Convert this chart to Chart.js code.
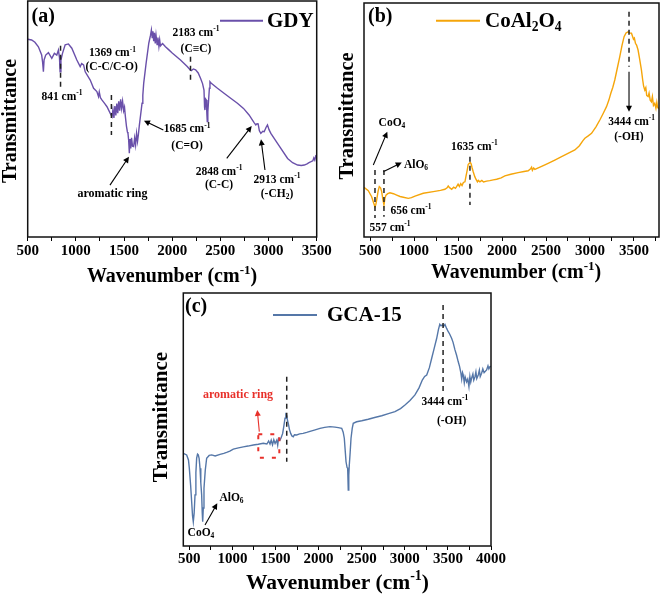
<!DOCTYPE html>
<html>
<head>
<meta charset="utf-8">
<script src="https://cdn.jsdelivr.net/npm/chart.js@4.4.1/dist/chart.umd.min.js"></script>
<style>
html, body { margin: 0; padding: 0; background: #fff; }
body { width: 661px; height: 601px; position: relative; overflow: hidden; }
canvas { position: absolute; }
</style>
</head>
<body>
<canvas id="pa" width="345" height="300" style="left:0;top:0"></canvas>
<canvas id="pb" width="331" height="300" style="left:330px;top:0"></canvas>
<canvas id="pc" width="370" height="313" style="left:140px;top:288px"></canvas>
<script>
// FTIR spectra, [wavenumber cm-1, transmittance (a.u.)]
const gdy = [
  [500,83.8],[541,83.5],[575,82.5],[611,80.6],[645,77.1],[655,74],[663,70.0],[670,75],[687,77.1],[715,78.1],
  [750,75.7],[777,77.8],[802,77.1],[819,79.2],[830,76],[836,70.0],[845,75],[861,77.8],[889,81.4],[923,81.8],
  [958,80.0],[1010,75.0],[1045,72.2],[1060,73.5],[1080,72.9],[1097,70.0],[1149,66.5],[1184,63.0],[1218,61.6],[1235,59.5],
  [1243,61.5],[1255,59.0],[1270,58.1],[1300,56.5],[1323,55.2],[1357,52.4],[1375,51.0],[1385,54],[1395,50.5],[1405,55.5],
  [1415,51.5],[1425,56.5],[1435,52.5],[1445,57.5],[1455,53.5],[1465,58.3],[1475,54.5],[1485,57.5],[1496,53.5],[1505,55],
  [1514,51.0],[1525,47],[1535,44.5],[1541,43.9],[1548,41],[1555,35.5],[1562,41.5],[1570,37.5],[1578,42],[1588,38.5],
  [1600,38.3],[1610,42],[1620,39],[1630,43.9],[1640,40.5],[1648,43],[1658,47],[1670,51.0],[1687,56.7],[1695,60],
  [1704,65.1],[1729,73.6],[1757,82.1],[1775,85.5],[1784,87.7],[1792,84.5],[1800,87.2],[1808,83],[1816,86.5],[1824,82],
  [1832,85.5],[1843,81.5],[1852,84.5],[1862,80.8],[1870,83.5],[1878,81],[1900,82],[1930,80.6],[1960,79.5],[2000,78.0],
  [2086,75.0],[2156,72.2],[2183,71.0],[2198,70.5],[2220,71.2],[2243,70.8],[2270,69.5],[2295,67.2],[2315,65],[2330,62.3],
  [2336,55],[2340,53.8],[2347,58.5],[2354,58.1],[2360,52],[2364,48.9],[2370,53],[2378,58.1],[2386,63],[2392,65.8],
  [2406,65.1],[2470,63.0],[2538,60.9],[2600,59.0],[2677,56.7],[2740,54.5],[2798,51.7],[2850,48.5],[2868,47.5],[2880,48.0],
  [2892,47.9],[2905,45.0],[2920,43.9],[2940,44.8],[2955,44.6],[2975,46.5],[2989,47.5],[3005,45.5],[3024,43.9],[3093,39.7],
  [3198,33.3],[3250,31.5],[3302,30.5],[3340,30.3],[3371,30.5],[3400,31.0],[3420,31.5],[3441,31.9],[3460,32.3],[3470,33.5],
  [3480,32.6],[3490,34.3],[3500,34.0]
];

const coal = [
  [430,21.2],[479,19.8],[517,17.2],[540,14.5],[555,12.9],[565,14],[574,15.8],[590,19.5],[604,21.5],[618,21],
  [631,19.4],[645,16],[657,13.7],[668,16.5],[680,17.9],[700,18.5],[725,18.9],[765,18.5],[802,17.9],[840,17.3],
  [877,17.0],[934,16.5],[970,16.8],[1010,17.5],[1104,18.7],[1218,19.4],[1300,19.9],[1350,20.4],[1375,21],[1388,21.8],
  [1400,21.2],[1427,20.4],[1450,21.3],[1470,20.8],[1483,21.5],[1500,22.6],[1515,21.6],[1530,22.8],[1545,22.0],[1560,23.3],
  [1578,23.6],[1590,26],[1604,28.6],[1615,31],[1627,31.5],[1640,31.8],[1649,31.2],[1660,29.5],[1672,27.9],[1690,25.8],
  [1703,24.7],[1720,23.6],[1730,24.2],[1748,23.6],[1770,24.2],[1790,23.5],[1824,23.9],[1860,24.1],[1900,24.4],[1938,24.7],
  [1990,25.3],[2032,26.1],[2100,26.8],[2183,27.5],[2250,28.0],[2297,28.3],[2325,29.2],[2336,29.8],[2345,28.5],[2360,29.5],
  [2373,28.9],[2450,30.2],[2524,31.5],[2600,32.9],[2677,34.3],[2750,35.7],[2828,37.2],[2880,39.0],[2920,41.2],[2942,42.2],
  [2980,43.2],[3018,44.3],[3070,47.2],[3112,50.0],[3150,52.8],[3188,55.7],[3215,58.5],[3237,61.4],[3260,64],[3282,67.1],
  [3310,72],[3339,77.1],[3365,82],[3388,85.6],[3410,87.2],[3433,87.7],[3450,87.2],[3472,87.1],[3495,84.5],[3505,85.0],
  [3517,82.8],[3530,82.0],[3547,79.9],[3565,76],[3585,71.4],[3600,67],[3610,64.5],[3623,62.8],[3635,63.8],[3645,60.5],
  [3661,60.0],[3672,61.5],[3685,58.5],[3699,57.8],[3710,60],[3722,56.2],[3737,57.1],[3750,55],[3760,57.5],[3767,55.7],
  [3780,54.8]
];

const gca = [
  [430,36.6],[469,36.0],[490,34],[500,30.7],[515,24],[527,17.5],[537,12],[546,9.6],[556,13],[566,20.2],
  [576,29],[585,34.7],[595,36.3],[604,36.0],[614,34.5],[624,30.7],[633,25],[643,20.2],[650,13],[655,9.6],
  [662,15],[670,22.8],[685,30],[701,34.7],[730,35.8],[759,36.0],[800,35.6],[856,36.2],[900,36.6],[933,37.0],
  [970,37.5],[1010,38.3],[1070,38.8],[1126,39.2],[1180,39.5],[1242,39.9],[1300,40.2],[1358,40.6],[1400,40.3],[1420,41.5],
  [1436,40.3],[1450,41.8],[1465,40.0],[1480,42.0],[1495,40.5],[1514,41.8],[1525,39.8],[1535,42.5],[1552,41.9],[1565,42.8],
  [1583,44.5],[1597,47.5],[1610,50.5],[1620,52],[1630,51.5],[1640,49.5],[1648,48.5],[1662,46],[1676,44.5],[1690,43.5],
  [1706,43.2],[1720,44],[1745,43.9],[1780,44.3],[1820,44.5],[1862,44.9],[1900,45.3],[1950,45.8],[2016,46.5],[2070,46.9],
  [2132,47.2],[2190,47.0],[2228,46.8],[2268,46.5],[2285,45],[2298,42.6],[2310,37],[2318,33.3],[2330,31],[2337,30.7],
  [2344,22.1],[2350,28],[2356,32.0],[2366,37],[2376,42.6],[2390,46.5],[2402,48.5],[2441,49.1],[2500,49.5],[2576,50.1],
  [2650,50.8],[2732,51.5],[2810,52.3],[2886,53.1],[2950,54.3],[3002,55.7],[3060,57.5],[3118,59.7],[3165,62.5],[3203,65.6],
  [3230,67],[3254,67.6],[3285,70.5],[3312,74.2],[3340,78],[3370,82.1],[3390,85.5],[3406,87.6],[3420,87],[3435,87.4],
  [3450,86.8],[3466,87.6],[3485,86],[3504,84.7],[3520,83.8],[3543,82.1],[3560,80.5],[3582,77.5],[3600,75.5],[3620,72.8],
  [3635,71],[3651,68.3],[3660,66],[3670,68.5],[3678,67.6],[3690,64.5],[3700,66.8],[3717,64.9],[3730,66],[3744,63.0],
  [3755,67],[3765,64.8],[3775,66.3],[3790,68.0],[3800,65.6],[3814,66.9],[3825,68.8],[3835,66.2],[3852,67.6],[3865,69.5],
  [3875,67],[3891,68.3],[3905,70],[3920,68.5],[3949,69.6],[3965,71.2],[3975,70.0],[3988,70.9],[4000,71.0]
];

const tickStep = 250;
const labelStep = 500;
const FONT = "'Liberation Serif', 'Times New Roman', serif";

// peak annotations, in data coordinates
const notesA = [
  { t: 'text', x: 856, y: 59.4, s: '841 cm^{-1}' },
  { t: 'dash', x: 841, y1: 81, y2: 63.5 },
  { t: 'text', x: 1380, y: 77.8, s: '1369 cm^{-1}' },
  { t: 'text', x: 1372, y: 71.9, s: '(C-C/C-O)' },
  { t: 'dash', x: 1369, y1: 60.2, y2: 43.2 },
  { t: 'text', x: 1380, y: 18.2, s: 'aromatic ring', size: 12 },
  { t: 'arrow', x1: 1354, y1: 22.0, x2: 1551, y2: 34.0 },
  { t: 'text', x: 2154, y: 45.6, s: '1685 cm^{-1}' },
  { t: 'text', x: 2154, y: 38.6, s: '(C=O)' },
  { t: 'arrow', x1: 1908, y1: 45.3, x2: 1707, y2: 49.3 },
  { t: 'text', x: 2247, y: 86.3, s: '2183 cm^{-1}' },
  { t: 'text', x: 2247, y: 79.5, s: '(C\u2261C)' },
  { t: 'dash', x: 2190, y1: 76.4, y2: 65.8 },
  { t: 'text', x: 2486, y: 27.7, s: '2848 cm^{-1}' },
  { t: 'text', x: 2486, y: 22.0, s: '(C-C)' },
  { t: 'arrow', x1: 2566, y1: 33.3, x2: 2825, y2: 47.0 },
  { t: 'text', x: 3088, y: 24.2, s: '2913 cm^{-1}' },
  { t: 'text', x: 3088, y: 18.2, s: '(-CH_{2})' },
  { t: 'arrow', x1: 2963, y1: 28.4, x2: 2922, y2: 41.4 }
];
const notesB = [
  { t: 'text', x: 748, y: 48.6, s: 'CoO_{4}' },
  { t: 'arrow', x1: 536, y1: 30.8, x2: 695, y2: 45.0 },
  { t: 'dash', x: 555, y1: 28.6, y2: 8.1 },
  { t: 'text', x: 726, y: 3.7, s: '557 cm^{-1}' },
  { t: 'text', x: 1021, y: 30.8, s: 'AlO_{6}' },
  { t: 'arrow', x1: 649, y1: 27.9, x2: 859, y2: 31.8 },
  { t: 'dash', x: 657, y1: 28.6, y2: 8.7 },
  { t: 'text', x: 964, y: 11.2, s: '656 cm^{-1}' },
  { t: 'text', x: 1686, y: 38.6, s: '1635 cm^{-1}' },
  { t: 'dash', x: 1635, y1: 34.3, y2: 13.7 },
  { t: 'dash', x: 3444, y1: 96.3, y2: 72.8 },
  { t: 'arrow', x1: 3444, y1: 70.6, x2: 3444, y2: 53.5 },
  { t: 'text', x: 3474, y: 49.3, s: '3444 cm^{-1}' },
  { t: 'text', x: 3443, y: 42.9, s: '(-OH)' }
];
const notesC = [
  { t: 'dash', x: 1630, y1: 66.9, y2: 33.3 },
  { t: 'dash', x: 3444, y1: 95.3, y2: 61.0 },
  { t: 'text', x: 3465, y: 56.8, s: '3444 cm^{-1}' },
  { t: 'text', x: 3543, y: 49.4, s: '(-OH)' },
  { t: 'text', x: 1065, y: 59.7, s: 'aromatic ring', color: '#e8302a', size: 12 },
  { t: 'arrow', x1: 1312, y1: 45.2, x2: 1288, y2: 53.8, color: '#e8302a' },
  { t: 'rect', x1: 1300, x2: 1544, y1: 44.2, y2: 34.9, color: '#e8302a' },
  { t: 'text', x: 989, y: 18.9, s: 'AlO_{6}' },
  { t: 'arrow', x1: 682, y1: 8.3, x2: 824, y2: 16.9 },
  { t: 'text', x: 635, y: 5.1, s: 'CoO_{4}' }
];

function parseRich(s) {
  const out = [];
  let buf = '', i = 0;
  while (i < s.length) {
    const c = s[i];
    if ((c === '^' || c === '_') && s[i + 1] === '{') {
      if (buf) { out.push({ t: buf, m: '' }); buf = ''; }
      const end = s.indexOf('}', i);
      out.push({ t: s.slice(i + 2, end), m: c });
      i = end + 1;
    } else {
      buf += c;
      i++;
    }
  }
  if (buf) out.push({ t: buf, m: '' });
  return out;
}

function drawRich(ctx, s, x, y, size, align, color) {
  const segs = parseRich(s);
  const small = size * 0.65;
  let w = 0;
  segs.forEach(g => {
    ctx.font = 'bold ' + (g.m ? small : size) + 'px ' + FONT;
    g.w = ctx.measureText(g.t).width;
    w += g.w;
  });
  let cx = align === 'left' ? x : x - w / 2;
  ctx.fillStyle = color || '#000';
  ctx.textAlign = 'left';
  ctx.textBaseline = 'middle';
  segs.forEach(g => {
    ctx.font = 'bold ' + (g.m ? small : size) + 'px ' + FONT;
    const dy = g.m === '^' ? -size * 0.33 : g.m === '_' ? size * 0.28 : 0;
    ctx.fillText(g.t, cx, y + dy);
    cx += g.w;
  });
}

function arrow(ctx, x1, y1, x2, y2, color) {
  const ang = Math.atan2(y2 - y1, x2 - x1);
  const hl = 6, hw = 3;
  ctx.strokeStyle = color; ctx.fillStyle = color; ctx.lineWidth = 1.1;
  ctx.setLineDash([]);
  ctx.beginPath();
  ctx.moveTo(x1, y1);
  ctx.lineTo(x2 - Math.cos(ang) * hl * 0.8, y2 - Math.sin(ang) * hl * 0.8);
  ctx.stroke();
  ctx.beginPath();
  ctx.moveTo(x2, y2);
  ctx.lineTo(x2 - Math.cos(ang) * hl + Math.sin(ang) * hw, y2 - Math.sin(ang) * hl - Math.cos(ang) * hw);
  ctx.lineTo(x2 - Math.cos(ang) * hl - Math.sin(ang) * hw, y2 - Math.sin(ang) * hl + Math.cos(ang) * hw);
  ctx.closePath();
  ctx.fill();
}

const decor = {};

const decorPlugin = {
  id: 'decor',
  afterDatasetsDraw(chart) {
    const o = decor[chart.canvas.id];
    const { ctx, chartArea: a } = chart;
    const sx = chart.scales.x, sy = chart.scales.y;
    ctx.save();
    o.notes.forEach(n => {
      const col = n.color || '#000';
      if (n.t === 'text') {
        drawRich(ctx, n.s, sx.getPixelForValue(n.x), sy.getPixelForValue(n.y), n.size || 11.5, 'center', col);
      } else if (n.t === 'dash') {
        const px = sx.getPixelForValue(n.x);
        ctx.strokeStyle = '#222'; ctx.lineWidth = 1.5; ctx.setLineDash([5, 4]);
        ctx.beginPath();
        ctx.moveTo(px, sy.getPixelForValue(n.y1));
        ctx.lineTo(px, sy.getPixelForValue(n.y2));
        ctx.stroke();
      } else if (n.t === 'arrow') {
        arrow(ctx, sx.getPixelForValue(n.x1), sy.getPixelForValue(n.y1),
              sx.getPixelForValue(n.x2), sy.getPixelForValue(n.y2), col);
      } else if (n.t === 'rect') {
        const l = sx.getPixelForValue(n.x1), r = sx.getPixelForValue(n.x2);
        const t = sy.getPixelForValue(n.y1), b = sy.getPixelForValue(n.y2);
        ctx.strokeStyle = col; ctx.lineWidth = 2; ctx.setLineDash([4, 8]);
        ctx.strokeRect(l, t, r - l, b - t);
      }
    });
    ctx.setLineDash([]);

    // frame
    ctx.strokeStyle = '#111';
    ctx.lineWidth = 1.5;
    ctx.strokeRect(a.left, a.top, a.right - a.left, a.bottom - a.top);

    // legend
    const lg = o.legend;
    ctx.strokeStyle = o.color; ctx.lineWidth = 2;
    ctx.beginPath(); ctx.moveTo(lg.x1, lg.y); ctx.lineTo(lg.x2, lg.y); ctx.stroke();
    drawRich(ctx, lg.s, lg.tx, lg.y + 1, 21, 'left', '#000');

    // panel label
    drawRich(ctx, o.label[0], o.label[1], o.label[2], 20, 'left', '#000');

    // axis titles
    drawRich(ctx, 'Wavenumber (cm^{-1})', o.xTitle[0], o.xTitle[1], o.xTitle[2], 'center', '#000');
    ctx.translate(o.yTitle[0], o.yTitle[1]);
    ctx.rotate(-Math.PI / 2);
    drawRich(ctx, 'Transmittance', 0, 0, o.yTitle[2], 'center', '#000');
    ctx.restore();
  }
};

function makePanel(id, series, color, o) {
  o.color = color;
  decor[id] = o;
  return new Chart(document.getElementById(id), {
    type: 'line',
    data: {
      datasets: [{
        data: series.map(p => ({ x: p[0], y: p[1] })),
        borderColor: color,
        borderWidth: 1.4,
        pointRadius: 0,
        tension: 0,
        fill: false
      }]
    },
    options: {
      responsive: false,
      animation: false,
      events: [],
      layout: { padding: o.pad },
      plugins: { legend: { display: false }, tooltip: { enabled: false } },
      scales: {
        x: {
          type: 'linear',
          min: o.xMin,
          max: o.xMax,
          grid: { display: true, drawOnChartArea: false, drawTicks: true, tickLength: 4, color: '#000', lineWidth: 1 },
          border: { display: false },
          ticks: {
            stepSize: tickStep,
            autoSkip: false,
            includeBounds: false,
            maxRotation: 0,
            padding: o.tickPad,
            color: '#000',
            font: { family: FONT, size: 15, weight: 'bold' },
            callback: v => (v % labelStep === 0 ? String(v) : '')
          },
          afterFit: s => { s.height = o.xH; s.paddingLeft = 0; s.paddingRight = 0; }
        },
        y: {
          min: 0,
          max: 100,
          grid: { display: false },
          border: { display: false },
          ticks: { display: false },
          afterFit: s => { s.width = o.yW; s.paddingTop = 0; s.paddingBottom = 0; }
        }
      }
    },
    plugins: [decorPlugin]
  });
}

makePanel('pa', gdy, '#6a50aa', {
  xMin: 500, xMax: 3500, yW: 27.7, xH: 50, tickPad: 1,
  pad: { left: 0, top: 1, right: 28.3, bottom: 13 },
  xTitle: [172, 277, 20], yTitle: [10.5, 121, 20],
  label: ['(a)', 31.5, 17],
  legend: { x1: 220, x2: 263, y: 20.7, tx: 267, s: 'GDY' },
  notes: notesA
});

makePanel('pb', coal, '#f5a50a', {
  xMin: 430, xMax: 3785, yW: 34, xH: 50, tickPad: 1,
  pad: { left: 0, top: 3, right: 2, bottom: 13 },
  xTitle: [186, 273, 20], yTitle: [17.5, 116, 20.5],
  label: ['(b)', 38, 17],
  legend: { x1: 106, x2: 150, y: 20.7, tx: 155, s: 'CoAl_{2}O_{4}' },
  notes: notesB
});

makePanel('pc', gca, '#5577a8', {
  xMin: 430, xMax: 4000, yW: 43.3, xH: 45, tickPad: 0,
  pad: { left: 0, top: 5, right: 19, bottom: 10 },
  xTitle: [197.5, 295, 21.5], yTitle: [21.7, 129, 21],
  label: ['(c)', 45, 19],
  legend: { x1: 133, x2: 177, y: 27, tx: 187, s: 'GCA-15' },
  notes: notesC
});
</script>
</body>
</html>
